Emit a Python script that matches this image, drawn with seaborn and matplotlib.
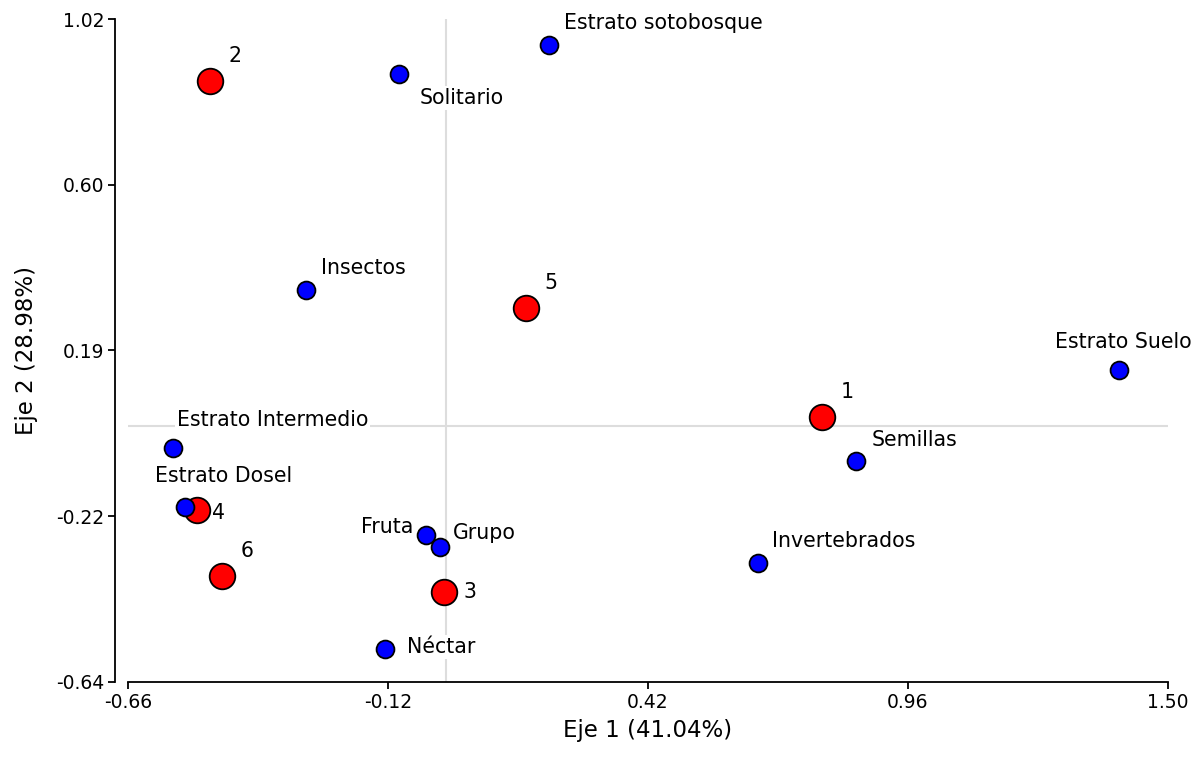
import numpy as np
import pandas as pd
import matplotlib
matplotlib.use("Agg")
import matplotlib.pyplot as plt
import seaborn as sns

# Site scores (red) and variable scores (blue) on the first two axes
site_labels = ["1", "2", "3", "4", "5", "6"]
site_x = [0.781, -0.490, -0.004, -0.517, 0.167, -0.465]
site_y = [0.024, 0.865, -0.415, -0.209, 0.296, -0.375]

var_labels = ["Estrato sotobosque", "Solitario", "Insectos", "Estrato Suelo",
              "Estrato Intermedio", "Semillas", "Estrato Dosel", "Fruta",
              "Grupo", "Invertebrados", "Néctar"]
var_x = [0.214, -0.097, -0.290, 1.398, -0.567, 0.852, -0.542, -0.041,
         -0.012, 0.648, -0.126]
var_y = [0.955, 0.882, 0.342, 0.141, -0.054, -0.087, -0.202, -0.272,
         -0.302, -0.342, -0.557]

x_ticklabels = ["-0.66", "-0.12", "0.42", "0.96", "1.50"]
y_ticklabels = ["-0.64", "-0.22", "0.19", "0.60", "1.02"]
x_title = "Eje 1 (41.04%)"
y_title = "Eje 2 (28.98%)"

# label placement (offset in points, horizontal alignment)
site_offsets = [((18, 18), "center"), ((18, 18), "center"), ((14, 0), "left"),
                ((11, -2), "left"), ((18, 18), "center"), ((18, 18), "center")]
var_offsets = [((11, 16), "left"), ((15, -17), "left"), ((11, 16), "left"),
               ((3, 20), "center"), ((3, 20), "left"), ((11, 15), "left"),
               ((28, 22), "center"), ((-9, 6), "right"), ((9, 10), "left"),
               ((10, 16), "left"), ((16, 1), "left")]

sites = pd.DataFrame({"x": site_x, "y": site_y, "label": site_labels})
variables = pd.DataFrame({"x": var_x, "y": var_y, "label": var_labels})

sns.set_style("white")
plt.rcParams["font.family"] = ["DejaVu Sans"]

fig = plt.figure(figsize=(12.04, 7.58), dpi=100)
ax = fig.add_axes([0.1063, 0.1003, 0.8638, 0.8746])

xmin, xmax = -0.66, 1.50
ymin, ymax = -0.64, 1.02
ax.set_xlim(xmin, xmax)
ax.set_ylim(ymin, ymax)

ax.axhline(0, color="#dddddd", lw=1.5, zorder=0)
ax.axvline(0, color="#dddddd", lw=1.5, zorder=0)

sns.scatterplot(data=sites, x="x", y="y", ax=ax, color="#ff0000", s=340,
                edgecolor="black", linewidth=1.3, zorder=3, legend=False)
sns.scatterplot(data=variables, x="x", y="y", ax=ax, color="#0000ff", s=165,
                edgecolor="black", linewidth=1.3, zorder=4, legend=False)

label_size = 14.8
bbox = dict(boxstyle="square,pad=0.1", fc="white", ec="none")
for (lx, ly, lab), (off, ha) in zip(zip(site_x, site_y, site_labels), site_offsets):
    ax.annotate(lab, (lx, ly), xytext=off, textcoords="offset points",
                ha=ha, va="center", fontsize=label_size, color="black", zorder=5)
for (lx, ly, lab), (off, ha) in zip(zip(var_x, var_y, var_labels), var_offsets):
    ax.annotate(lab, (lx, ly), xytext=off, textcoords="offset points",
                ha=ha, va="center", fontsize=label_size, color="black",
                bbox=bbox, zorder=2)

ax.set_xticks(np.linspace(xmin, xmax, len(x_ticklabels)))
ax.set_xticklabels(x_ticklabels)
ax.set_yticks(np.linspace(ymin, ymax, len(y_ticklabels)))
ax.set_yticklabels(y_ticklabels)
ax.tick_params(axis="both", direction="out", length=5, width=1.3,
               labelsize=13.5, colors="black", bottom=True, left=True, pad=3)
ax.set_xlabel(x_title, fontsize=16.5, labelpad=5, color="black")
ax.set_ylabel(y_title, fontsize=16.5, labelpad=13, color="black")

for side in ("top", "right"):
    ax.spines[side].set_visible(False)
for side in ("left", "bottom"):
    ax.spines[side].set_color("black")
    ax.spines[side].set_linewidth(1.3)
ax.spines["left"].set_position(("outward", 9))

fig.savefig("out.png", dpi=100, facecolor="white")
